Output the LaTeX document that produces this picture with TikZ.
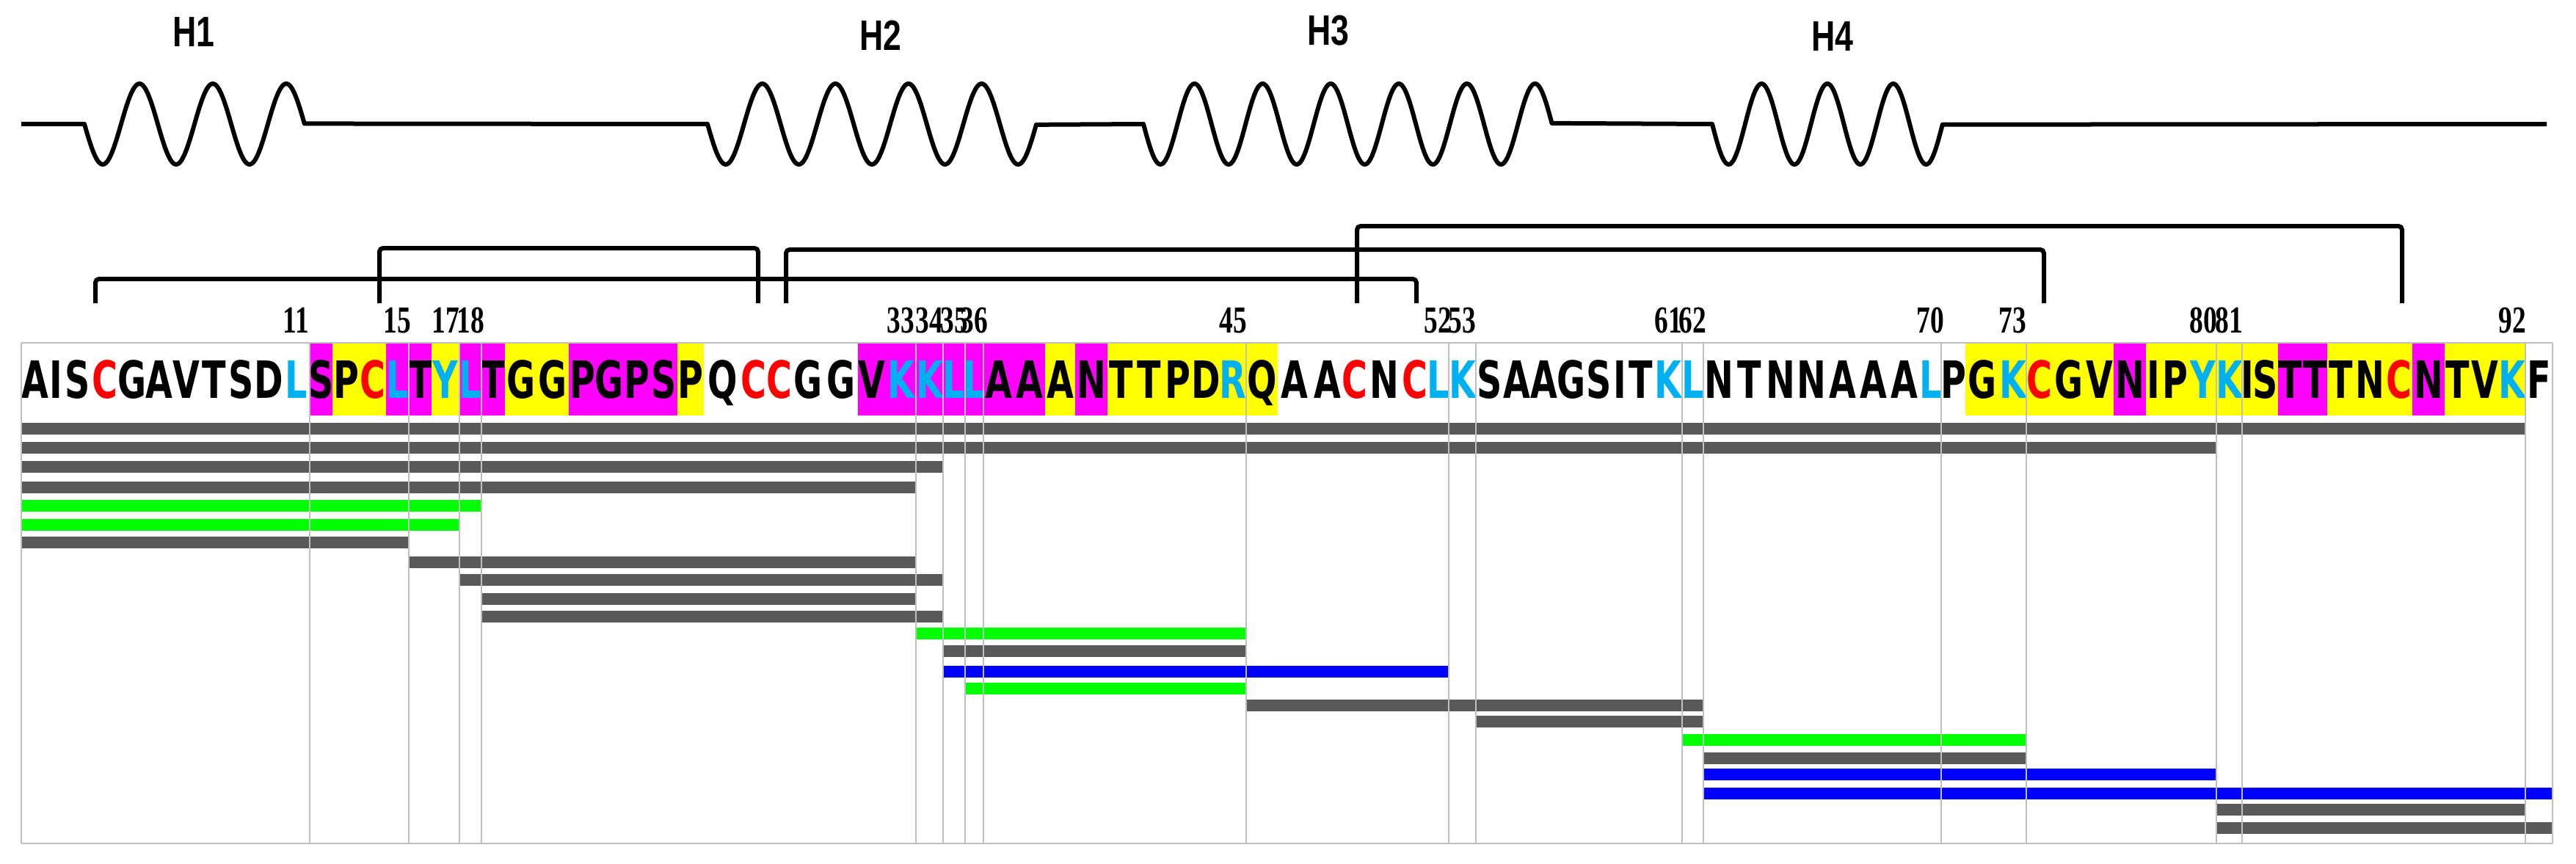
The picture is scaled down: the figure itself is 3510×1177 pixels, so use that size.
\documentclass[tikz,border=0pt]{standalone}
\usepackage{fontspec}
\usepackage{graphicx}
\setmainfont{DejaVu Sans}
\newfontfamily\numf{Liberation Serif}
\newfontfamily\hf{Liberation Sans}
\definecolor{cK}{HTML}{000000}
\definecolor{cR}{HTML}{FF0000}
\definecolor{cC}{HTML}{00B0F0}
\definecolor{bN}{HTML}{FFFFFF}
\definecolor{bM}{HTML}{FF00FF}
\definecolor{bY}{HTML}{FFFF00}
\definecolor{gbar}{HTML}{595959}
\definecolor{gnbar}{HTML}{00FF00}
\definecolor{blbar}{HTML}{0000FF}
\definecolor{vl}{HTML}{C0C0C0}
\tikzset{
  res/.style={inner sep=0pt, minimum height=99pt, text height=51pt, text depth=0pt, font=\bfseries\fontsize{70}{80}\selectfont},
  num/.style={inner sep=0pt, anchor=base, font=\numf\bfseries\fontsize{52}{60}\selectfont},
  hlab/.style={inner sep=0pt, font=\hf\bfseries\fontsize{58}{64}\selectfont},
  helixline/.style={line width=6pt, line join=round},
  brk/.style={line width=6pt, rounded corners=5pt},
  vline/.style={draw=vl, line width=1.6pt},
}
\def\B{{29,66.3,86.8,124.0,161.3,198.5,235.8,273.0,310.3,347.5,384.8,422,453,490,526,557,588,626,656,688,731.5,775,812,849,886,923,959,1010,1044.5,1079,1124,1169,1207,1248,1285,1315,1340,1382,1424,1465,1509,1547,1585,1624,1662,1698,1741,1786,1831,1861,1911,1945,1974,2011,2048.2,2085.4,2122.7,2159.9,2197.1,2217.6,2254.8,2292,2321,2363.1,2405.3,2447.4,2489.6,2531.7,2573.9,2616,2645,2678,2724,2761,2797,2841,2880,2924,2944,2984,3020,3055,3070,3104,3137.5,3171,3208,3251,3287,3331,3366,3405,3441,3478}}
\newcommand\seqbar[4]{\fill[#4] (r#2.west |- 0,#1-8) rectangle (r#3.east |- 0,#1+8);}
\begin{document}
\begin{tikzpicture}[x=1pt,y=-1pt]
\useasboundingbox (0,0) rectangle (3510,1177);
% helix line
\draw[helixline] (29,169) -- (115,169)
  -- plot[domain=0:3,samples=151] ({115+100*\x},{169+55*sin(360*\x)})
  -- (964,169)
  -- plot[domain=0:4.5,samples=226] ({964+99.6*\x},{169+55*sin(360*\x)})
  -- (1558,169)
  -- plot[domain=0:6,samples=301] ({1558+92.8*\x},{169+55*sin(360*\x)})
  -- (2333,169)
  -- plot[domain=0:3.5,samples=176] ({2333+89.7*\x},{169+55*sin(360*\x)})
  -- (3470,169);
\node[hlab] (h1) at (264,44) {\scalebox{0.77}[1]{H1}};
\node[hlab] (h2) at (1200,48) {\scalebox{0.77}[1]{H2}};
\node[hlab] (h3) at (1810,42) {\scalebox{0.77}[1]{H3}};
\node[hlab] (h4) at (2497,50) {\scalebox{0.77}[1]{H4}};
% disulfide brackets
\draw[brk] (130,413) -- (130,380) -- (1930,380) -- (1930,413);
\draw[brk] (517,413) -- (517,338) -- (1033,338) -- (1033,413);
\draw[brk] (1071,413) -- (1071,340) -- (2785,340) -- (2785,413);
\draw[brk] (1849,413) -- (1849,308) -- (3273,308) -- (3273,413);
% residues
\foreach \i/\ch/\tc/\bc in {1/A/cK/bN,2/I/cK/bN,3/S/cK/bN,4/C/cR/bN,5/G/cK/bN,6/A/cK/bN,7/V/cK/bN,8/T/cK/bN,9/S/cK/bN,10/D/cK/bN,
 11/L/cC/bN,12/S/cK/bM,13/P/cK/bY,14/C/cR/bY,15/L/cC/bM,16/T/cK/bM,17/Y/cC/bY,18/L/cC/bM,19/T/cK/bM,20/G/cK/bY,
 21/G/cK/bY,22/P/cK/bM,23/G/cK/bM,24/P/cK/bM,25/S/cK/bM,26/P/cK/bY,27/Q/cK/bN,28/C/cR/bN,29/C/cR/bN,30/G/cK/bN,
 31/G/cK/bN,32/V/cK/bM,33/K/cC/bM,34/K/cC/bM,35/L/cC/bM,36/L/cC/bM,37/A/cK/bM,38/A/cK/bM,39/A/cK/bY,40/N/cK/bM,
 41/T/cK/bY,42/T/cK/bY,43/P/cK/bY,44/D/cK/bY,45/R/cC/bY,46/Q/cK/bY,47/A/cK/bN,48/A/cK/bN,49/C/cR/bN,50/N/cK/bN,
 51/C/cR/bN,52/L/cC/bN,53/K/cC/bN,54/S/cK/bN,55/A/cK/bN,56/A/cK/bN,57/G/cK/bN,58/S/cK/bN,59/I/cK/bN,60/T/cK/bN,
 61/K/cC/bN,62/L/cC/bN,63/N/cK/bN,64/T/cK/bN,65/N/cK/bN,66/N/cK/bN,67/A/cK/bN,68/A/cK/bN,69/A/cK/bN,70/L/cC/bN,
 71/P/cK/bN,72/G/cK/bY,73/K/cC/bY,74/C/cR/bY,75/G/cK/bY,76/V/cK/bY,77/N/cK/bM,78/I/cK/bY,79/P/cK/bY,80/Y/cC/bY,
 81/K/cC/bY,82/I/cK/bY,83/S/cK/bY,84/T/cK/bM,85/T/cK/bM,86/T/cK/bY,87/N/cK/bY,88/C/cR/bY,89/N/cK/bM,90/T/cK/bY,
 91/V/cK/bY,92/K/cC/bY,93/F/cK/bN}{
  \pgfmathsetmacro\xa{\B[\i-1]}
  \pgfmathsetmacro\xb{\B[\i]}
  \pgfmathsetmacro\cw{\xb-\xa}
  \node[res, fill=\bc, text=\tc, minimum width=\cw pt] (r\i) at ({(\xa+\xb)/2},516.5) {\makebox[0pt]{\scalebox{0.68}[1]{\ch}}};
}
% position numbers
\foreach \n in {11,15,17,18,33,34,35,36,45,52,53,61,62,70,73,80,81,92}{
  \node[num] (n\n) at (r\n.center |- 0,453) {\scalebox{0.72}[1]{\n}};
}
% bars
\seqbar{584}{1}{92}{gbar}
\seqbar{610}{1}{80}{gbar}
\seqbar{636}{1}{34}{gbar}
\seqbar{664}{1}{33}{gbar}
\seqbar{689}{1}{18}{gnbar}
\seqbar{715}{1}{17}{gnbar}
\seqbar{739}{1}{15}{gbar}
\seqbar{766}{16}{33}{gbar}
\seqbar{790}{18}{34}{gbar}
\seqbar{816}{19}{33}{gbar}
\seqbar{840}{19}{34}{gbar}
\seqbar{863}{34}{45}{gnbar}
\seqbar{887}{35}{45}{gbar}
\seqbar{915}{35}{52}{blbar}
\seqbar{938}{36}{45}{gnbar}
\seqbar{961}{46}{62}{gbar}
\seqbar{983}{54}{62}{gbar}
\seqbar{1008}{62}{73}{gnbar}
\seqbar{1033}{63}{73}{gbar}
\seqbar{1055}{63}{80}{blbar}
\seqbar{1081}{63}{93}{blbar}
\seqbar{1103}{81}{92}{gbar}
\seqbar{1128}{81}{93}{gbar}
% grid lines
\draw[vline] (r1.north west) -- (r93.north east);
\draw[vline] (r1.west |- 0,1149) -- (r93.east |- 0,1149);
\draw[vline] (r1.north west) -- (r1.west |- 0,1149);
\foreach \n in {11,15,17,18,33,34,35,36,45,52,53,61,62,70,73,80,81,92,93}{
  \draw[vline] (r\n.north east) -- (r\n.east |- 0,1149);
}
\end{tikzpicture}
\end{document}
